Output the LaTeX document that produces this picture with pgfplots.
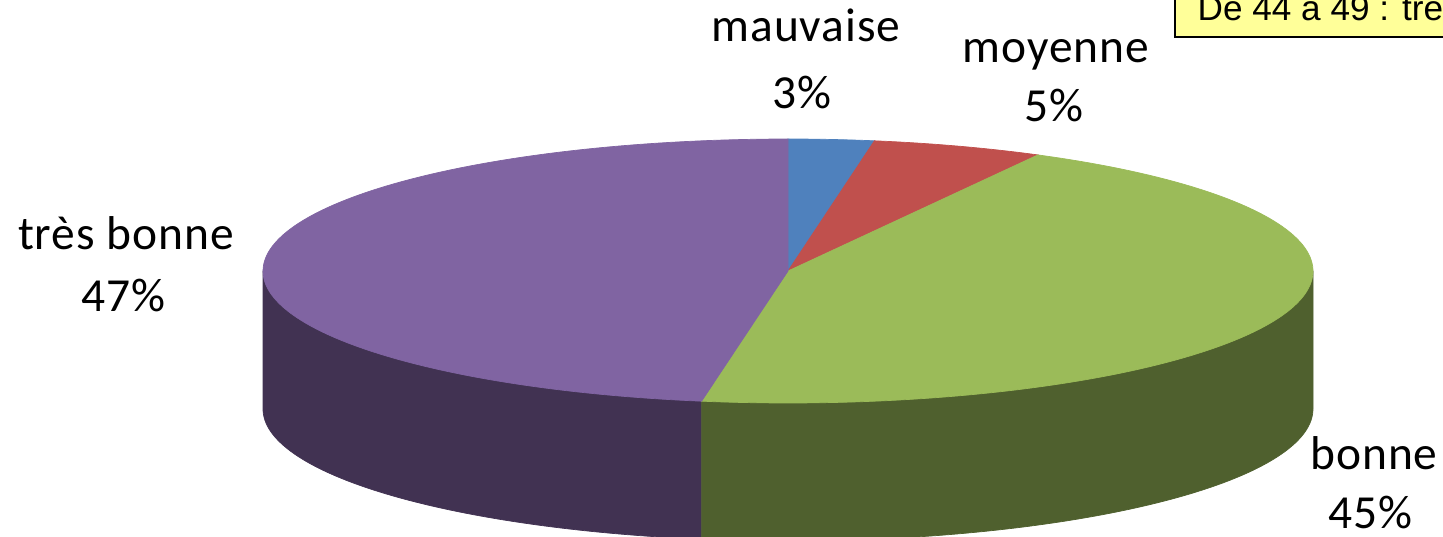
\documentclass[border=0pt]{standalone}
\usepackage{pgfplots}
\pgfplotsset{compat=1.18}
\usepackage{pgfplotstable}
\usepackage{fontspec}
\setmainfont{Carlito}[LetterSpace=2]
\newfontfamily\boxfont{Liberation Sans}
\definecolor{sBlue}{HTML}{4F81BD}
\definecolor{sRed}{HTML}{C0504D}
\definecolor{sGreen}{HTML}{9BBB59}
\definecolor{sPurple}{HTML}{8064A2}
\definecolor{sGreenSide}{HTML}{4F602E}
\definecolor{sPurpleSide}{HTML}{413252}
\definecolor{boxyellow}{HTML}{FFFF99}

% answers (counts)
\pgfplotstableread{
label count
mauvaise 1
moyenne 2
bonne 17
tresbonne 18
}\piedata

\begin{document}%
\begin{tikzpicture}
\pgfplotstablegetelem{0}{count}\of\piedata \let\cA\pgfplotsretval
\pgfplotstablegetelem{1}{count}\of\piedata \let\cB\pgfplotsretval
\pgfplotstablegetelem{2}{count}\of\piedata \let\cC\pgfplotsretval
\pgfplotstablegetelem{3}{count}\of\piedata \let\cD\pgfplotsretval
\pgfmathsetmacro\tot{\cA+\cB+\cC+\cD}
% boundary angles, clockwise from 12 o'clock
\pgfmathsetmacro\tA{90}
\pgfmathsetmacro\tB{90-360*\cA/\tot}
\pgfmathsetmacro\tC{90-360*(\cA+\cB)/\tot}
\pgfmathsetmacro\tD{90-360*(\cA+\cB+\cC)/\tot}
\pgfmathsetmacro\tE{-270}
% geometry (pixel units)
\def\cx{788}\def\cy{271}\def\ra{525}\def\rb{132}\def\hh{138}
\pgfmathsetmacro\xD{\cx+\ra*cos(\tD)}
\pgfmathsetmacro\yD{\cy-\rb*sin(\tD)}
\pgfmathsetmacro\xL{\cx-\ra}
\pgfmathsetmacro\xR{\cx+\ra}
\useasboundingbox (0,0) rectangle (14.43cm,5.37cm);
\clip (0,0) rectangle (14.43cm,5.37cm);
\begin{axis}[at={(0,0)}, anchor=south west, scale only axis,
  width=14.43cm, height=5.37cm, xmin=0, xmax=1443, ymin=0, ymax=537,
  y dir=reverse, hide axis, clip=false]
% side walls
\addplot[fill=sPurpleSide, draw=sPurpleSide, line width=0.2pt, domain=-180:\tD, samples=80]
  ({\cx+\ra*cos(x)}, {\cy+\hh-\rb*sin(x)})
  -- (axis cs:\xD,\yD) -- (axis cs:\xL,\cy) -- cycle;
\addplot[fill=sGreenSide, draw=sGreenSide, line width=0.2pt, domain=\tD:0, samples=80]
  ({\cx+\ra*cos(x)}, {\cy+\hh-\rb*sin(x)})
  -- (axis cs:\xR,\cy) -- (axis cs:\xD,\yD) -- cycle;
% top face
\addplot[fill=sBlue, draw=sBlue, line width=0.2pt, domain=\tB:\tA, samples=20]
  ({\cx+\ra*cos(x)}, {\cy-\rb*sin(x)}) -- (axis cs:\cx,\cy) -- cycle;
\addplot[fill=sRed, draw=sRed, line width=0.2pt, domain=\tC:\tB, samples=30]
  ({\cx+\ra*cos(x)}, {\cy-\rb*sin(x)}) -- (axis cs:\cx,\cy) -- cycle;
\addplot[fill=sGreen, draw=sGreen, line width=0.2pt, domain=\tD:\tC, samples=120]
  ({\cx+\ra*cos(x)}, {\cy-\rb*sin(x)}) -- (axis cs:\cx,\cy) -- cycle;
\addplot[fill=sPurple, draw=sPurple, line width=0.2pt, domain=\tE:\tD, samples=120]
  ({\cx+\ra*cos(x)}, {\cy-\rb*sin(x)}) -- (axis cs:\cx,\cy) -- cycle;
% data labels
\tikzset{lab/.style={anchor=base, inner sep=0pt, font=\fontsize{13.5}{16}\selectfont}}
\node[lab] at (axis cs:806,42) {mauvaise};
\node[lab] at (axis cs:802,109) {3\%};
\node[lab] at (axis cs:1056,63) {moyenne};
\node[lab] at (axis cs:1054,122) {5\%};
\node[lab] at (axis cs:126,250) {très bonne};
\node[lab] at (axis cs:123,311) {47\%};
\node[lab] at (axis cs:1374,469) {bonne};
\node[lab] at (axis cs:1370,528) {45\%};
% text box
\draw[fill=boxyellow, draw=black, line width=0.6pt] (axis cs:1175,-10) rectangle (axis cs:1520,37);
\node[anchor=base west, inner sep=0pt, font=\boxfont\fontsize{10}{12}\selectfont] at (axis cs:1197,21) {De 44 à 49 : très bonne};
\end{axis}
\end{tikzpicture}%
\end{document}
